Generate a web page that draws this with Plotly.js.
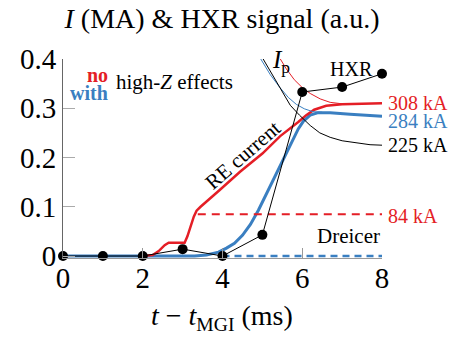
<!DOCTYPE html>
<html><head><meta charset="utf-8">
<script src="https://cdn.plot.ly/plotly-3.0.1.min.js"></script>
</head><body style="margin:0">
<div id="chart" style="width:459px;height:338px"></div>
<script>
// ---- data ----
const hxrT = [0, 1, 2, 3, 4, 5, 6, 7, 8];
const hxrV = [0, 0, 0, 0.014, 0, 0.043, 0.333, 0.343, 0.37];

const reNoT = [2, 2.25, 2.4, 2.55, 2.65, 3.05, 3.12, 3.2, 3.28, 3.35, 3.45, 3.93, 4.44, 5.0, 5.44, 5.9, 6.1, 6.3, 6.6, 7.0, 7.5, 8];
const reNoV = [0, 0.002, 0.01, 0.022, 0.027, 0.027, 0.04, 0.06, 0.08, 0.092, 0.1, 0.134, 0.171, 0.208, 0.243, 0.272, 0.286, 0.297, 0.305, 0.308, 0.309, 0.31];

const reWithT = [0, 3.3, 3.6, 3.9, 4.1, 4.3, 4.5, 4.7, 4.9, 5.1, 5.36, 5.69, 5.9, 6.03, 6.2, 6.4, 6.7, 7.2, 7.6, 8];
const reWithV = [0, 0, 0.002, 0.008, 0.016, 0.026, 0.042, 0.064, 0.093, 0.126, 0.168, 0.225, 0.258, 0.274, 0.286, 0.291, 0.291, 0.288, 0.286, 0.284];

const ipNoT = [5.45, 5.6, 5.8, 6.0, 6.2, 6.45, 6.7, 7.0];
const ipNoV = [0.40, 0.38, 0.358, 0.342, 0.33, 0.319, 0.312, 0.309];

const ipWithT = [4.96, 5.2, 5.44, 5.65, 5.85, 6.05, 6.27, 6.5];
const ipWithV = [0.40, 0.368, 0.342, 0.322, 0.308, 0.299, 0.293, 0.292];

const ipOtherT = [5.02, 5.2, 5.44, 5.7, 5.93, 6.2, 6.44, 6.7, 7.0, 7.37, 7.7, 8];
const ipOtherV = [0.40, 0.375, 0.343, 0.306, 0.286, 0.265, 0.25, 0.241, 0.234, 0.229, 0.226, 0.225];

const dreicerNoT = [3.38, 8];
const dreicerNoV = [0.085, 0.085];
const dreicerWithT = [4, 8];
const dreicerWithV = [0, 0];

const xTicks = [0, 2, 4, 6, 8];
const yTicks = [0, 0.1, 0.2, 0.3, 0.4];
const yTickText = ['0', '0.1', '0.2', '0.3', '0.4'];

// ---- style ----
var chartRed = '#e41e26', chartBlue = '#3a7fc1';
var serifFam = 'Liberation Serif';
var padL = 63, padR = 382, padT = 59, padB = 258;
function toPx(x) { return (x - padL) / (padR - padL); }
function toPy(y) { return (padB - y) / (padB - padT); }
function ann(text, x, y, size, color, extra) {
  var a = {
    text: text, x: toPx(x), y: toPy(y), xref: 'paper', yref: 'paper',
    showarrow: false, xanchor: 'center', yanchor: 'middle',
    font: {family: serifFam, size: size, color: color || '#000'}
  };
  return Object.assign(a, extra || {});
}

var traces = [
  {x: reWithT, y: reWithV, mode: 'lines', line: {color: chartBlue, width: 3}},
  {x: dreicerWithT, y: dreicerWithV, mode: 'lines', line: {color: chartBlue, width: 2.5, dash: '7px,5px'}},
  {x: reNoT, y: reNoV, mode: 'lines', line: {color: chartRed, width: 2.5}},
  {x: dreicerNoT, y: dreicerNoV, mode: 'lines', line: {color: chartRed, width: 2, dash: '8px,6px'}},
  {x: ipWithT, y: ipWithV, mode: 'lines', line: {color: chartBlue, width: 1}},
  {x: ipNoT, y: ipNoV, mode: 'lines', line: {color: chartRed, width: 1}},
  {x: ipOtherT, y: ipOtherV, mode: 'lines', line: {color: '#000', width: 1}},
  {x: hxrT, y: hxrV, mode: 'lines+markers', cliponaxis: false,
   line: {color: '#000', width: 1}, marker: {color: '#000', size: 10}}
];

var layout = {
  width: 459, height: 338,
  margin: {l: padL, r: 459 - padR, t: padT, b: 338 - padB},
  paper_bgcolor: '#fff', plot_bgcolor: '#fff',
  showlegend: false,
  font: {family: serifFam, color: '#000'},
  title: {text: '<i>I</i> (MA) &amp; HXR signal (a.u.)', x: 222 / 459, xref: 'container', xanchor: 'center',
          y: 1 - 18 / 338, yref: 'container', yanchor: 'middle',
          font: {family: serifFam, size: 28, color: '#000'}},
  xaxis: {range: [0, 8], tickvals: xTicks, showgrid: false, zeroline: false,
          showline: true, linecolor: '#999', linewidth: 1,
          ticks: 'inside', ticklen: 10, tickcolor: '#999', ticklabelstandoff: -6,
          tickfont: {family: serifFam, size: 29, color: '#000'}},
  yaxis: {range: [-0.004, 0.4], tickvals: yTicks, ticktext: yTickText, showgrid: false, zeroline: false,
          showline: true, linecolor: '#666', linewidth: 1,
          ticks: 'inside', ticklen: 12, tickcolor: '#aaa',
          tickfont: {family: serifFam, size: 29, color: '#000'}},
  annotations: [
    ann('<b>no</b>', 97.5, 75, 20, chartRed),
    ann('<b>with</b>', 88.5, 93, 20, chartBlue),
    ann('high-<i>Z</i> effects', 174, 82, 21, '#000'),
    ann('<i>I</i><sub>p</sub>', 281, 62, 25, '#000'),
    ann('HXR', 351.5, 68.5, 20, '#000'),
    ann('308 kA', 386, 103, 20, chartRed, {xanchor: 'left'}),
    ann('284 kA', 386, 120.5, 20, chartBlue, {xanchor: 'left'}),
    ann('225 kA', 386, 145, 20, '#000', {xanchor: 'left'}),
    ann('84 kA', 386, 216, 20, chartRed, {xanchor: 'left'}),
    ann('RE current', 243, 155, 21, '#000', {textangle: -41}),
    ann('Dreicer', 348, 236, 21, '#000'),
    ann('<i>t</i> − <i>t</i><sub>MGI</sub> (ms)', 222, 317, 28, '#000')
  ]
};

Plotly.newPlot('chart', traces, layout, {displayModeBar: false, staticPlot: true});
</script>
</body></html>
